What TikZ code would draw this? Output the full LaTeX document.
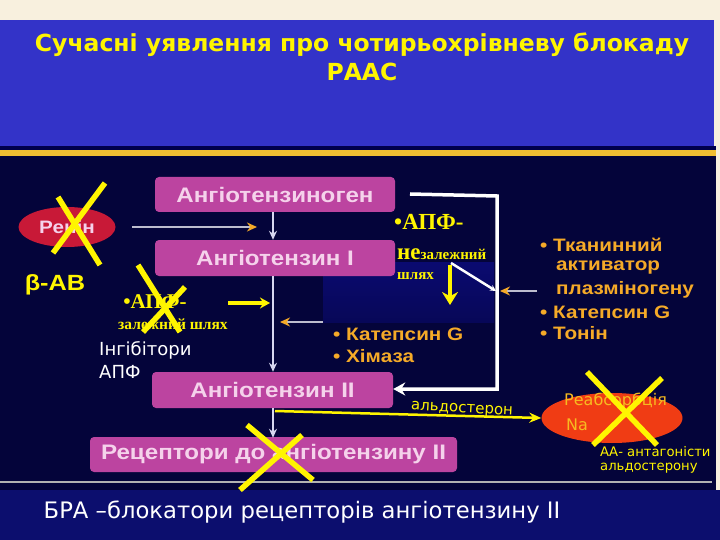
\documentclass[tikz,border=0pt]{standalone}
\usepackage{fontspec}
\setmainfont{Liberation Sans}
\newfontfamily\serifb{Liberation Serif}
\newfontfamily\comic{DejaVu Sans}
\newfontfamily\wide[FakeStretch=1.15]{Liberation Sans}
\usetikzlibrary{arrows.meta,shapes.geometric}
\definecolor{beige}{RGB}{248,240,222}
\definecolor{titleblue}{RGB}{51,51,200}
\definecolor{stripe}{RGB}{240,190,50}
\definecolor{bgnavy}{RGB}{4,4,58}
\definecolor{bandblue}{RGB}{12,14,110}
\definecolor{boxpink}{RGB}{188,68,160}
\definecolor{boxtext}{RGB}{245,210,235}
\definecolor{reninred}{RGB}{200,25,55}
\definecolor{naorange}{RGB}{240,60,20}
\definecolor{ylw}{RGB}{255,245,0}
\definecolor{orng}{RGB}{245,170,40}
\definecolor{axisw}{RGB}{215,215,240}
\definecolor{midblue}{RGB}{10,10,112}
\tikzset{
  pbox/.style={draw=none,fill=boxpink,rounded corners=4pt,text=boxtext,font=\wide\bfseries\fontsize{21}{24}\selectfont,inner sep=0pt},
  cross/.style={draw=ylw,line width=5.5pt},
  axisarrow/.style={draw=axisw,line width=1.6pt,-{Stealth[length=9pt,width=8pt]}},
  orarrow/.style={draw=axisw!70!gray,line width=1.6pt,-{Stealth[length=10pt,width=9pt,color=orng]}},
  whiteline/.style={draw=white,line width=3.5pt},
  ylwarrow/.style={draw=ylw,line width=3.5pt,-{Stealth[length=10pt,width=11pt]}},
  orangetxt/.style={text=orng,font=\wide\bfseries\fontsize{18}{21}\selectfont,anchor=west,inner sep=0pt},
  serifylw/.style={text=ylw,font=\serifb\bfseries,inner sep=0pt},
  comictxt/.style={font=\comic,inner sep=0pt}
}
\begin{document}
\begin{tikzpicture}[x=1pt,y=-1pt]
\useasboundingbox (0,0) rectangle (720,540);
% backgrounds
\fill[beige] (0,0) rectangle (720,540);
\fill[titleblue] (0,20) rectangle (714,146);
\fill[black!70!blue] (0,146) rectangle (716,150);
\fill[stripe] (0,150) rectangle (716,156);
\fill[bgnavy] (0,156) rectangle (716,490);
\shade[top color=midblue,bottom color=midblue!55!bgnavy] (323,262) rectangle (494,322);
\fill[bandblue] (0,490) rectangle (720,540);
\draw[gray!60!white,line width=1.5pt] (0,482) -- (712,482);

% title
\node[comictxt,text=ylw,font=\comic\bfseries\fontsize{23.5}{26}\selectfont] (t1) at (362,45) {Сучасні уявлення про чотирьохрівневу блокаду};
\node[comictxt,text=ylw,font=\comic\bfseries\fontsize{23.5}{26}\selectfont] (t2) at (362,72) {РААС};

% boxes
\node[pbox,minimum width=240pt,minimum height=35pt] (ag) at (275,194.5) {Ангіотензиноген};
\node[pbox,minimum width=240pt,minimum height=36pt] (a1) at (275,258) {Ангіотензин І};
\node[pbox,minimum width=241pt,minimum height=36pt] (a2) at (272.5,390) {Ангіотензин ІІ};
\node[pbox,minimum width=367pt,minimum height=35pt] (rec) at (273.5,454.5) {Рецептори до ангіотензину ІІ};

% renin
\node[ellipse,fill=reninred,minimum width=97pt,minimum height=40pt,text=boxtext,font=\wide\bfseries\fontsize{18}{20}\selectfont,inner sep=0pt] (ren) at (67,227) {Ренін};
\node[text=ylw,font=\wide\bfseries\fontsize{22}{24}\selectfont,inner sep=0pt] (bab) at (55,285) {β-АВ};

% axis arrows
\draw[axisarrow] (ag.south -| 273,0) -- (a1.north -| 273,0);
\draw[axisarrow] (a1.south -| 273,0) -- (a2.north -| 273,0);
\draw[axisarrow] (a2.south -| 273,0) -- ([yshift=-1pt]rec.north -| 273,0);
\coordinate (renend) at (257,227);
\draw[orarrow] (ren.east -| 132,0) -- (renend);
\coordinate (kg1) at (323,322);
\draw[orarrow] (kg1) -- (280,322);
\coordinate (kg2) at (537,291);
\draw[orarrow] (kg2) -- (500,291);

% ACE dependent
\node[serifylw,font=\serifb\bfseries\fontsize{21}{24}\selectfont] (apf1) at (155,302) {•АПФ-};
\node[serifylw,font=\serifb\bfseries\fontsize{15.5}{18}\selectfont] (apf1b) at (173,324) {залежний шлях};
\draw[ylwarrow] (228,303) -- (270,303);
\node[comictxt,text=white,font=\comic\fontsize{18}{20}\selectfont,anchor=west] (inh1) at (99,350) {Інгібітори};
\node[comictxt,text=white,font=\comic\fontsize{18}{20}\selectfont,anchor=west] (inh2) at (99,372) {АПФ};

% Cathepsin/Chymase
\node[orangetxt] (kat1) at (333,334) {• Катепсин G};
\node[orangetxt] (him) at (333,356) {• Хімаза};

% ACE independent
\node[serifylw,font=\serifb\bfseries\fontsize{23}{26}\selectfont,anchor=west] (apf2) at (394,222) {•АПФ-};
\node[serifylw,anchor=west] (apf2b) at (397,254) {{\fontsize{23}{26}\selectfont не}{\fontsize{15}{17}\selectfont залежний}};
\node[serifylw,font=\serifb\bfseries\fontsize{15}{17}\selectfont,anchor=west] (apf2c) at (397,276) {шлях};
\draw[ylwarrow,line width=4pt,-{Stealth[length=13pt,width=16pt]}] (450,265) -- (450,305);

% white bracket
\coordinate (wb1) at (410,194);
\coordinate (wb2) at (497,196);
\coordinate (wb3) at (497,389);
\draw[whiteline,-{Stealth[length=12pt,width=13pt]}] (wb1) -- (wb2) -- (wb3) -- (a2.east |- wb3);
\draw[draw=white,line width=2.5pt,-{Stealth[length=6pt,width=6pt]}] (451,263) -- (496,291);

% right list
\node[orangetxt] (tk1) at (540,245) {• Тканинний};
\node[orangetxt] (tk2) at (556,268) {активатор};
\node[orangetxt] (tk3) at (556,290) {плазміногену};
\node[orangetxt] (kat2) at (540,312) {• Катепсин G};
\node[orangetxt] (ton) at (540,333) {• Тонін};

% aldosterone
\node[ellipse,fill=naorange,minimum width=141pt,minimum height=50pt,inner sep=0pt] (na) at (612,418) {};
\node[comictxt,text=orng!80!yellow,font=\comic\fontsize{16}{18}\selectfont,anchor=west] (na1) at (564,401) {Реабсорбція};
\node[comictxt,text=orng!80!yellow,font=\comic\fontsize{16}{18}\selectfont,anchor=west] (na2) at (566,425) {Na};
\coordinate (aldst) at (275,411);
\draw[draw=ylw,line width=2.5pt,-{Stealth[length=12pt,width=10pt]}] (aldst) -- (na.west);
\node[comictxt,text=ylw,font=\comic\fontsize{15}{18}\selectfont,rotate=-3] (ald) at (462,410) {альдостерон};
\node[comictxt,text=ylw,font=\comic\fontsize{13.2}{15}\selectfont,anchor=west] (aa1) at (600,452) {АА- антагоністи};
\node[comictxt,text=ylw,font=\comic\fontsize{13.2}{15}\selectfont,anchor=west] (aa2) at (600,468) {альдостерону};

% bottom text
\node[comictxt,text=white,font=\comic\fontsize{22.7}{26}\selectfont] (bra) at (302,512) {БРА –блокатори рецепторів ангіотензину ІІ};

% crosses
\draw[cross] (58,197) -- (100,265);
\draw[cross] (105,183) -- (53,253);
\draw[cross] (138,265) -- (180,332);
\draw[cross] (185,287) -- (143,332);
\draw[cross] (587,372) -- (657,445);
\draw[cross] (662,378) -- (593,445);
\draw[cross] (247,425) -- (313,480);
\draw[cross] (302,435) -- (240,490);
\end{tikzpicture}
\end{document}
